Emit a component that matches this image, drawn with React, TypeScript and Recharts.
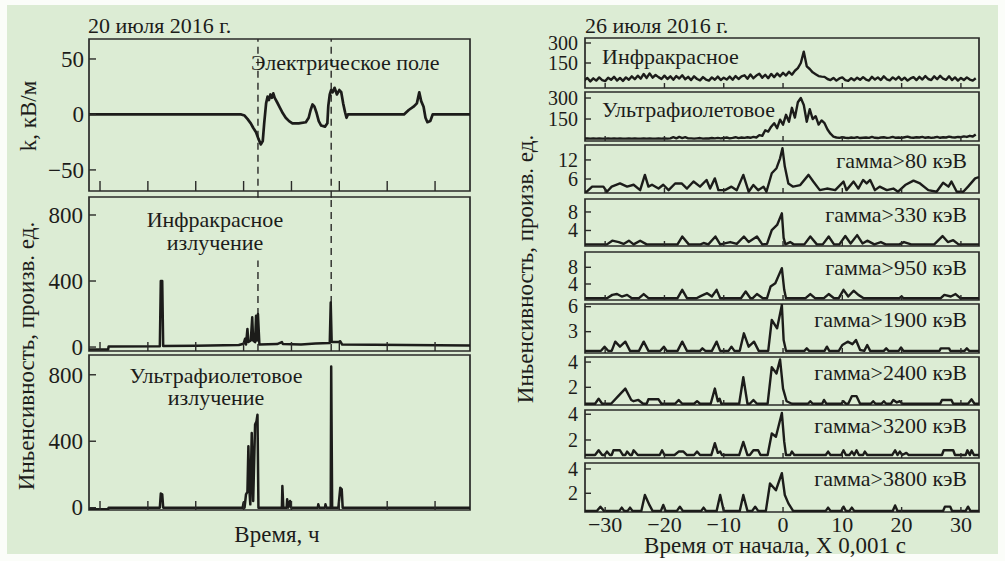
import React from "react";
import { LineChart, Line, XAxis, YAxis, ReferenceArea, ReferenceLine } from "recharts";

type Pt = [number, number];

const INK = "#1c1c1a";
const FRAME = "#2a2a28";
const GREEN = "#dcecd4";
const FONT = "Liberation Serif, DejaVu Serif, serif";

// ---------- 20 July 2016 (left column), time in hours ----------
const hourTicks = [1, 2, 3, 4, 5, 6, 7, 8];
const hourRange: [number, number] = [0.77, 8.73];
const flashHours = [4.3, 5.83];

const fieldTicks = [-50, 0, 50];
const fieldKvM: Pt[] = [
  [0.77, 0], [3.95, 0], [4.02, -1], [4.08, -4], [4.15, -8], [4.2, -12], [4.26, -16],
  [4.31, -22], [4.36, -27], [4.4, -24], [4.43, -8], [4.47, 10], [4.5, 16], [4.53, 13],
  [4.56, 18], [4.59, 15], [4.62, 19], [4.65, 15], [4.7, 11], [4.76, 6], [4.82, 1],
  [4.88, -3], [4.95, -6], [5.02, -8], [5.15, -8], [5.3, -7], [5.36, -3], [5.4, 4],
  [5.44, 9], [5.48, 7], [5.52, 2], [5.57, -6], [5.62, -10], [5.7, -11], [5.75, -8],
  [5.77, 8], [5.8, 18], [5.83, 22], [5.86, 20], [5.9, 24], [5.95, 18], [6.0, 22],
  [6.04, 20], [6.08, 10], [6.12, 2], [6.15, -3], [6.18, 0], [7.35, 0], [7.45, 4],
  [7.55, 7], [7.62, 10], [7.67, 20], [7.71, 12], [7.76, 7], [7.8, -3], [7.84, -7],
  [7.9, -6], [7.95, 0], [8.73, 0],
];

const intensityTicks = [0, 400, 800];
const infraredJul20: Pt[] = [
  [0.77, -15], [1.17, -15], [1.18, 4], [2.25, 5], [2.27, 400], [2.3, 400], [2.32, 6],
  [3.0, 8], [3.9, 12], [4.0, 20], [4.03, 50], [4.05, 15], [4.08, 110], [4.1, 30],
  [4.15, 40], [4.18, 180], [4.2, 40], [4.24, 30], [4.26, 190], [4.28, 40], [4.3, 200],
  [4.33, 15], [4.7, 18], [4.8, 30], [4.82, 18], [5.2, 15], [5.5, 22], [5.8, 25],
  [5.82, 270], [5.84, 30], [5.98, 30], [6.02, 35], [6.06, 15], [8.73, 10],
];
const ultravioletJul20: Pt[] = [
  [0.77, -10], [1.17, -10], [1.18, 0], [2.25, 0], [2.27, 85], [2.3, 80], [2.32, 0],
  [3.98, 0], [4.0, 30], [4.02, 0], [4.05, 80], [4.08, 95], [4.1, 370], [4.12, 110],
  [4.14, 20], [4.17, 450], [4.2, 40], [4.24, 500], [4.27, 520], [4.29, 560], [4.31, 0],
  [4.8, 0], [4.81, 130], [4.83, 0], [4.9, 0], [4.91, 50], [4.93, 0], [4.97, 40],
  [4.99, 0], [5.55, 0], [5.56, 20], [5.58, 0], [5.7, 0], [5.71, 20], [5.73, 0],
  [5.82, 0], [5.83, 850], [5.85, 0], [5.98, 0], [5.99, 30], [6.02, 120], [6.05, 110],
  [6.07, 0], [8.73, 0],
];

// ---------- 26 July 2016 (right column), time in ms ----------
const msTicks = [-30, -20, -10, 0, 10, 20, 30];
const msRange: [number, number] = [-33.4, 33.05];
const sampleStart = -33.5;
const sampleStep = 0.5;

const infraredJul26 = [
  20, 38, 12, 35, 18, 42, 22, 14, 40, 24, 46, 18, 38, 16, 42, 24, 50, 28,
  55, 32, 68, 38, 72, 40, 60, 44, 30, 55,
  30, 50, 24, 52, 34, 58, 28, 46, 22, 50, 30, 20, 44, 26, 18, 42, 24, 48, 22, 40,
  26, 48, 24, 52, 30, 50, 58, 32, 64, 36, 56, 70, 40, 62, 36, 68, 44, 72, 50, 76,
  56, 84, 62, 92, 112, 150,
  235, 125, 105, 80, 66, 52, 48,
  46, 30, 22, 38, 18, 34, 42, 22, 16, 36, 20, 40, 24, 44, 26, 18, 46, 26, 42, 22,
  50, 28, 20, 42, 26, 46, 22, 40, 18, 34, 44, 22, 46, 26, 52, 30, 22, 50, 28, 54,
  32, 24, 50, 22, 42, 18, 38, 22, 42, 26, 18, 36,
];
const ultravioletJul26 = [
  10, 12, 10, 11, 10, 12, 10, 10, 11, 10, 12, 10, 11, 10, 10, 12, 10, 11, 10, 10,
  12, 10, 11, 10, 10, 12, 10, 11, 10, 12,
  20, 12, 22, 14, 20, 12,
  12, 10, 12, 14, 10, 12, 11, 14, 12, 15, 12, 14, 18, 12, 15, 20, 14, 18, 15, 20,
  16, 22, 18,
  35, 30, 70, 60, 95, 120, 85, 145,
  110, 180, 130, 230, 160, 270, 300, 250, 130, 220,
  150, 170, 110, 140, 120, 75, 45, 25,
  18, 15, 20, 16, 14, 18, 15, 20, 14, 16, 18, 15, 22, 16, 14, 18, 20, 15, 17, 22,
  16, 18, 15, 20, 24, 18, 16, 20, 18, 22, 16, 20, 15, 18, 22, 16, 20, 18, 24, 20,
  18, 22, 20, 26, 22, 30, 25, 40,
];

const gamma80: Pt[] = [
  [-33.4, 2.0], [-33.1, 2.0], [-32.2, 3.6], [-30.3, 3.6], [-29.7, 2.0], [-28.9, 3.6],
  [-27.5, 4.6], [-26.3, 3.6], [-25.2, 4.2], [-24.1, 2.5], [-23.3, 7.3], [-22.7, 3.6],
  [-22.1, 4.2], [-21, 3.0], [-20.2, 4.2], [-19.3, 2.5], [-18.2, 4.6], [-17.1, 4.6],
  [-16.2, 3.0], [-15.1, 5.2], [-14, 3.6], [-12.9, 5.7], [-12.3, 3.0], [-11.5, 6.2],
  [-10.9, 2.5], [-9.8, 2.5], [-8.7, 3.6], [-7.8, 2.5], [-6.7, 7.3], [-5.8, 2.0],
  [-5, 4.1], [-4.2, 2.5], [-3.3, 3.6], [-2.8, 2.0], [-1.9, 7.8], [-1.1, 9.4],
  [-0.5, 12.5], [-0.1, 15.7], [0.3, 9.9], [0.9, 4.6], [1.7, 3.6], [2.9, 4.1],
  [4.3, 7.3], [5.1, 5.2], [6.2, 2.5], [7.4, 3.0], [8.8, 2.5], [10.2, 5.2], [10.7, 2.5],
  [11.9, 5.2], [12.7, 3.0], [13.5, 5.7], [14.1, 4.6], [14.7, 5.7], [15.5, 2.5],
  [16.3, 3.6], [17.5, 2.5], [18.6, 3.0], [19.4, 2.0], [20.6, 4.1], [22, 5.5],
  [23.1, 4.6], [24.5, 2.5], [25.9, 2.0], [27, 4.8], [27.9, 3.6], [28.4, 5.2],
  [29.3, 2.0], [30.4, 2.0], [31.2, 3.6], [32.4, 6.2], [33.05, 6.6],
];
const gamma330: Pt[] = [
  [-33.4, 1.0], [-29.7, 1.0], [-28.8, 1.8], [-27.7, 1.5], [-26.9, 1.1], [-26, 1.8],
  [-25.2, 1.0], [-24.1, 1.8], [-23, 1.0], [-17.8, 1.0], [-17, 2.7], [-15.9, 1.0],
  [-13.9, 1.0], [-13.4, 1.3], [-12.6, 1.0], [-11.4, 2.7], [-10.6, 1.0], [-8.9, 1.5],
  [-7.8, 1.1], [-6.6, 2.7], [-5.8, 1.5], [-4.4, 2.7], [-3.5, 1.0], [-2.7, 1.1],
  [-1.9, 4.1], [-1, 5.2], [-0.2, 7.7], [0.1, 2.4], [0.4, 1.0], [1.2, 1.5], [1.8, 1.0],
  [3.6, 1.0], [4.6, 2.7], [5.7, 1.0], [6.7, 1.0], [7.7, 2.7], [8.6, 1.0], [9.5, 1.0],
  [10.5, 2.8], [11.4, 1.2], [12.5, 3.0], [13.4, 1.2], [14.2, 1.8], [15.4, 1.0],
  [16.5, 1.5], [17.3, 1.0], [19.6, 1.0], [20.4, 1.5], [21.6, 1.0], [25.5, 1.0],
  [26.9, 2.8], [27.8, 1.5], [28.7, 1.9], [29.6, 1.0], [33.05, 1.0],
];
const gamma950: Pt[] = [
  [-33.4, 0.6], [-29.7, 0.6], [-28.8, 1.4], [-28, 1.6], [-27.2, 1.0], [-26.3, 1.4],
  [-25.5, 0.6], [-24.3, 0.6], [-23.5, 1.6], [-22.7, 0.6], [-17.8, 0.6], [-17, 2.6],
  [-16.2, 0.6], [-14.6, 0.6], [-13.9, 1.1], [-12.8, 1.8], [-12, 1.0], [-11.2, 2.6],
  [-10.6, 0.6], [-7.1, 0.6], [-6.3, 2.2], [-5.5, 0.6], [-5.1, 0.6], [-4.4, 1.6],
  [-3.4, 0.6], [-2.7, 0.6], [-2.1, 3.4], [-1.3, 4.2], [-0.2, 7.8], [0.2, 2.6],
  [0.5, 0.6], [3.8, 0.6], [4.6, 1.6], [5.4, 0.6], [6.9, 0.6], [7.7, 1.6], [8.6, 0.6],
  [9.4, 0.6], [10.2, 2.6], [11, 1.0], [11.9, 2.4], [12.7, 1.4], [13.6, 0.6],
  [19.6, 0.6], [20, 1.0], [20.3, 0.6], [26.6, 0.6], [27.2, 1.4], [28.3, 1.0],
  [29.1, 1.6], [29.9, 0.6], [33.05, 0.6],
];
const gamma1900: Pt[] = [
  [-33.4, 0.7], [-30.7, 0.7], [-30.1, 1.2], [-29.5, 0.7], [-28.9, 0.7], [-28.3, 1.8],
  [-27.5, 1.2], [-26.6, 1.8], [-25.8, 0.7], [-24.3, 0.7], [-23.5, 1.8], [-22.7, 0.7],
  [-20.7, 0.7], [-20.1, 1.2], [-19.6, 0.7], [-17.8, 0.7], [-17, 1.8], [-16.2, 0.7],
  [-14, 0.7], [-13.6, 1.0], [-13.1, 0.7], [-12, 0.7], [-11.2, 1.8], [-10.6, 0.7],
  [-9.2, 0.7], [-8.7, 1.2], [-8.2, 0.7], [-7.3, 0.7], [-6.6, 2.8], [-5.8, 1.2],
  [-4.9, 1.8], [-4.1, 0.7], [-2.5, 0.7], [-1.9, 4.4], [-1, 3.4], [-0.2, 6.2],
  [0.1, 2.0], [0.5, 0.7], [3.6, 0.7], [4, 1.0], [4.4, 0.7], [7, 0.7], [7.4, 1.2],
  [7.8, 0.7], [9.4, 0.7], [10, 1.4], [10.9, 1.8], [11.7, 1.5], [12.3, 2.0], [13, 0.8],
  [13.7, 0.7], [14.2, 1.4], [14.7, 0.7], [17, 0.7], [17.4, 1.0], [17.8, 0.7],
  [19.5, 0.7], [19.9, 1.1], [20.3, 0.7], [26.4, 0.7], [26.6, 1.0], [28, 1.0],
  [28.2, 0.7], [30.6, 0.7], [31, 1.0], [31.4, 0.7], [33.05, 0.7],
];
const gamma2400: Pt[] = [
  [-33.4, 0.7], [-31.7, 0.7], [-31.1, 1.1], [-30.5, 0.7], [-29, 0.7], [-27.8, 1.3],
  [-26.6, 1.9], [-25.6, 1.0], [-25.2, 0.9], [-24.4, 1.0], [-23.6, 0.7], [-23, 0.7],
  [-22.7, 1.05], [-21, 1.05], [-20.5, 0.7], [-18.2, 0.7], [-17.6, 1.0], [-17, 0.7],
  [-15, 0.7], [-14.5, 0.9], [-14, 0.7], [-12.2, 0.7], [-11.5, 1.9], [-11, 0.9],
  [-10.7, 1.1], [-10.4, 0.7], [-7.4, 0.7], [-6.7, 2.8], [-6, 0.7], [-5.6, 0.7],
  [-5, 1.0], [-4.4, 0.7], [-2.6, 0.7], [-1.9, 3.6], [-1.1, 3.1], [-0.5, 4.2],
  [0, 1.9], [0.6, 0.9], [1.5, 0.7], [4.2, 0.7], [4.6, 0.9], [5, 0.7], [6.6, 0.7],
  [6.9, 1.0], [7.3, 0.7], [9.8, 0.7], [10.2, 0.9], [10.6, 0.7], [11, 0.7], [11.6, 1.3],
  [12.4, 1.3], [13, 0.7], [14.8, 0.7], [15.2, 0.9], [15.6, 0.7], [16.6, 0.7],
  [17, 0.9], [17.4, 0.7], [18.2, 0.7], [18.6, 1.0], [19.2, 0.8], [19.7, 0.9],
  [20.1, 0.7], [26.5, 0.7], [26.8, 1.0], [28.4, 1.0], [28.7, 0.7], [31.2, 0.7],
  [31.8, 1.05], [32.3, 0.7], [33.05, 0.7],
];
const gamma3200: Pt[] = [
  [-33.4, 0.83], [-31.7, 0.83], [-31.1, 1.2], [-30.5, 0.83], [-30.1, 0.83],
  [-29.7, 1.1], [-29.2, 0.83], [-28.9, 0.83], [-28.6, 1.2], [-27.5, 1.2], [-27, 0.83],
  [-26.6, 0.83], [-26.3, 1.1], [-25.8, 0.83], [-25.5, 0.83], [-25.2, 1.2],
  [-24.5, 0.83], [-20.8, 0.83], [-20.4, 1.2], [-20, 0.83], [-18.3, 0.83],
  [-17.6, 1.1], [-16.8, 1.1], [-16.2, 0.83], [-15, 0.83], [-14.5, 1.1], [-14, 0.83],
  [-12.1, 0.83], [-11.5, 1.75], [-11, 1.0], [-10.6, 1.1], [-10.3, 0.83],
  [-7.4, 0.83], [-6.7, 1.85], [-6, 0.83], [-5.6, 0.83], [-5, 1.2], [-4.2, 1.2],
  [-3.8, 0.83], [-2.6, 0.83], [-1.9, 2.5], [-1.2, 2.25], [-0.2, 4.1], [0.2, 1.87],
  [0.5, 0.83], [1.2, 0.83], [1.5, 1.1], [1.9, 0.83], [7.2, 0.83], [7.6, 1.1],
  [8, 0.83], [9.8, 0.83], [10.2, 1.2], [10.6, 0.83], [11.2, 0.83], [11.6, 1.1],
  [12, 0.83], [12.4, 1.2], [12.8, 0.83], [13.5, 0.83], [13.8, 1.1], [14.2, 0.83],
  [18.4, 0.83], [18.9, 1.2], [19.3, 0.83], [19.7, 1.1], [20.1, 0.83], [20.8, 1.0],
  [21.2, 0.83], [26.8, 0.83], [27.1, 1.2], [28.7, 1.2], [29, 0.83], [30.8, 0.83],
  [31.1, 1.2], [31.5, 0.83], [31.8, 1.2], [32.2, 0.83], [33.05, 0.83],
];
const gamma3800: Pt[] = [
  [-33.4, 0.55], [-31.4, 0.55], [-30.8, 0.9], [-30.2, 0.55], [-27.6, 0.55],
  [-27.2, 0.82], [-26.8, 0.55], [-26.2, 0.55], [-25.8, 0.82], [-25.4, 0.55],
  [-23.9, 0.55], [-23.3, 1.86], [-22.5, 1.0], [-22, 0.55], [-20.6, 0.55],
  [-20.2, 1.04], [-19.8, 0.55], [-17.9, 0.55], [-17.4, 0.9], [-16.9, 0.55],
  [-13.8, 0.55], [-13.4, 0.82], [-13, 0.55], [-11.2, 0.55], [-10.6, 1.86], [-10, 0.55],
  [-7.3, 0.55], [-6.7, 1.86], [-6, 0.55], [-5.2, 0.55], [-4.7, 0.9], [-4.2, 0.55],
  [-2.9, 0.55], [-2.2, 2.8], [-1.2, 2.25], [-0.2, 3.65], [0.3, 1.86], [0.9, 1.17],
  [1.7, 0.55], [7.2, 0.55], [7.6, 0.82], [8, 0.55], [9.8, 0.55], [10.2, 0.9],
  [10.6, 0.55], [11.2, 0.55], [11.6, 0.82], [12, 0.55], [18.5, 0.55], [18.9, 1.0],
  [19.3, 0.55], [27, 0.55], [27.3, 0.9], [28.2, 0.9], [28.5, 0.55], [30.8, 0.55],
  [31.2, 0.9], [31.6, 0.55], [33.05, 0.55],
];

type Row = { t: number; v: number };
const fromPairs = (pts: Pt[]): Row[] => pts.map(([t, v]) => ({ t, v }));
const fromSamples = (vals: number[]): Row[] =>
  vals.map((v, i) => ({ t: sampleStart + i * sampleStep, v }));

const fmt = (v: number) => (v < 0 ? `\u2212${-v}` : `${v}`);

interface PanelProps {
  left: number;
  top: number;
  width: number;
  height: number;
  data: Row[];
  xDomain: [number, number];
  xTicks: number[];
  xTickLen: number;
  xLabels?: boolean;
  yDomain: [number, number];
  yTicks: number[];
  yTickLen: number;
  yLabelGap: number;
  fontSize: number;
  lineWidth: number;
  children?: React.ReactNode;
}

const PAD_L = 70;
const PAD_T = 14;
const PAD_R = 6;

function Panel(p: PanelProps) {
  const padB = p.xLabels ? 34 : 14;
  const label = { fontFamily: FONT, fontSize: p.fontSize, fill: INK };
  const yTick = (props: any) => (
    <g>
      <line x1={props.x} x2={props.x + p.yTickLen} y1={props.y} y2={props.y} stroke={FRAME} strokeWidth={1.4} />
      <text x={props.x - p.yLabelGap} y={props.y} dy="0.34em" textAnchor="end" style={label}>
        {fmt(props.payload.value)}
      </text>
    </g>
  );
  const xTick = (props: any) => (
    <g>
      <line x1={props.x} x2={props.x} y1={props.y} y2={props.y - p.xTickLen} stroke={FRAME} strokeWidth={1.4} />
      {p.xLabels && (
        <text x={props.x} y={props.y + 20} textAnchor="middle" style={{ ...label, fontSize: 22 }}>
          {fmt(props.payload.value)}
        </text>
      )}
    </g>
  );
  return (
    <div style={{ position: "absolute", left: p.left - PAD_L, top: p.top - PAD_T }}>
      <LineChart
        width={PAD_L + p.width + PAD_R}
        height={PAD_T + p.height + padB}
        data={p.data}
        margin={{ top: PAD_T, right: PAD_R, bottom: 0, left: 0 }}
      >
        <XAxis
          dataKey="t"
          type="number"
          domain={p.xDomain}
          allowDataOverflow
          ticks={p.xTicks}
          interval={0}
          height={padB}
          tickSize={0}
          tickMargin={0}
          tickLine={false}
          axisLine={false}
          tick={xTick}
        />
        <YAxis
          type="number"
          domain={p.yDomain}
          allowDataOverflow
          ticks={p.yTicks}
          interval={0}
          width={PAD_L}
          tickSize={0}
          tickMargin={0}
          tickLine={false}
          axisLine={false}
          tick={yTick}
        />
        {p.children}
        <Line
          type="linear"
          dataKey="v"
          stroke={INK}
          strokeWidth={p.lineWidth}
          strokeLinejoin="round"
          dot={false}
          isAnimationActive={false}
        />
        <ReferenceArea
          x1={p.xDomain[0]}
          x2={p.xDomain[1]}
          y1={p.yDomain[0]}
          y2={p.yDomain[1]}
          fill="none"
          stroke={FRAME}
          strokeWidth={1.7}
          fillOpacity={0}
          ifOverflow="visible"
        />
      </LineChart>
    </div>
  );
}

const LEFT_X = 89;
const LEFT_W = 381;
const RIGHT_X = 585;
const RIGHT_W = 394;

const rightPanels = [
  { top: 38, bottom: 88, domain: [-37.5, 337.5], ticks: [150, 300], rows: fromSamples(infraredJul26), name: "" },
  { top: 92, bottom: 141, domain: [-7, 343], ticks: [150, 300], rows: fromSamples(ultravioletJul26), name: "" },
  { top: 145, bottom: 193, domain: [1.6, 16.7], ticks: [6, 12], rows: fromPairs(gamma80), name: "гамма>80 кэВ" },
  { top: 199, bottom: 246, domain: [0.65, 10.8], ticks: [4, 8], rows: fromPairs(gamma330), name: "гамма>330 кэВ" },
  { top: 252, bottom: 300, domain: [0.17, 11.66], ticks: [4, 8], rows: fromPairs(gamma950), name: "гамма>950 кэВ" },
  { top: 304, bottom: 353, domain: [0.44, 6.32], ticks: [3, 6], rows: fromPairs(gamma1900), name: "гамма>1900 кэВ" },
  { top: 357, bottom: 405, domain: [0.6, 4.4], ticks: [2, 4], rows: fromPairs(gamma2400), name: "гамма>2400 кэВ" },
  { top: 410, bottom: 458, domain: [0.6, 4.33], ticks: [2, 4], rows: fromPairs(gamma3200), name: "гамма>3200 кэВ" },
  { top: 463, bottom: 512, domain: [0.46, 4.49], ticks: [2, 4], rows: fromPairs(gamma3800), name: "гамма>3800 кэВ" },
];

const dash = { stroke: FRAME, strokeWidth: 1.4, strokeDasharray: "7 5" };

export default function App() {
  const txt = (size: number): React.CSSProperties => ({ fontFamily: FONT, fontSize: size, fill: INK });
  return (
    <div style={{ position: "absolute", left: 0, top: 0, width: 1005, height: 561, background: "#fbfdf9", overflow: "hidden" }}>
      <div style={{ position: "absolute", left: 7, top: 5, width: 991, height: 549, background: GREEN }} />

      <Panel
        left={LEFT_X} top={39} width={LEFT_W} height={152}
        data={fromPairs(fieldKvM)}
        xDomain={hourRange} xTicks={hourTicks} xTickLen={10}
        yDomain={[-69, 68]} yTicks={fieldTicks} yTickLen={7} yLabelGap={5}
        fontSize={23} lineWidth={2.7}
      >
        {flashHours.map((h) => (
          <ReferenceLine key={h} segment={[{ x: h, y: -75 }, { x: h, y: 68 }]} ifOverflow="visible" {...dash} />
        ))}
      </Panel>
      <Panel
        left={LEFT_X} top={197} width={LEFT_W} height={154}
        data={fromPairs(infraredJul20)}
        xDomain={hourRange} xTicks={hourTicks} xTickLen={9}
        yDomain={[-24, 909]} yTicks={intensityTicks} yTickLen={7} yLabelGap={6}
        fontSize={23} lineWidth={2.5}
      >
        <ReferenceLine segment={[{ x: flashHours[0], y: -24 }, { x: flashHours[0], y: 524 }]} {...dash} />
        <ReferenceLine x={flashHours[1]} {...dash} />
      </Panel>
      <Panel
        left={LEFT_X} top={355} width={LEFT_W} height={155}
        data={fromPairs(ultravioletJul20)}
        xDomain={hourRange} xTicks={hourTicks} xTickLen={9}
        yDomain={[-14, 919]} yTicks={intensityTicks} yTickLen={7} yLabelGap={6}
        fontSize={23} lineWidth={2.5}
      />

      {rightPanels.map((rp, i) => (
        <Panel
          key={i}
          left={RIGHT_X} top={rp.top} width={RIGHT_W} height={rp.bottom - rp.top}
          data={rp.rows}
          xDomain={msRange} xTicks={msTicks} xTickLen={5}
          xLabels={i === rightPanels.length - 1}
          yDomain={rp.domain as [number, number]} yTicks={rp.ticks} yTickLen={6} yLabelGap={7}
          fontSize={20} lineWidth={2.4}
        />
      ))}

      <svg width={1005} height={561} style={{ position: "absolute", left: 0, top: 0, pointerEvents: "none" }}>
        <text x={88} y={33} style={txt(22)}>20 июля 2016 г.</text>
        <text x={585} y={33} style={txt(22)}>26 июля 2016 г.</text>

        <text x={251} y={70} style={txt(22)}>Электрическое поле</text>
        <text x={215} y={227} textAnchor="middle" style={txt(22)}>Инфракрасное</text>
        <text x={215} y={250} textAnchor="middle" style={txt(22)}>излучение</text>
        <text x={216} y={383} textAnchor="middle" style={txt(22)}>Ультрафиолетовое</text>
        <text x={216} y={405} textAnchor="middle" style={txt(22)}>излучение</text>
        <text x={277} y={542} textAnchor="middle" style={txt(23)}>Время, ч</text>

        <text transform="translate(36,116) rotate(-90)" textAnchor="middle" style={txt(23)}>k, кВ/м</text>
        <text transform="translate(34,356) rotate(-90)" textAnchor="middle" style={txt(23)}>
          Иньенсивность, произв. ед.
        </text>

        <text x={602} y={64} style={txt(22)}>Инфракрасное</text>
        <text x={602} y={117} style={txt(22)}>Ультрафиолетовое</text>
        {rightPanels
          .filter((rp) => rp.name)
          .map((rp) => (
            <text key={rp.name} x={967} y={rp.top + 23} textAnchor="end" style={txt(22)}>
              {rp.name}
            </text>
          ))}
        <text transform="translate(533,269) rotate(-90)" textAnchor="middle" style={txt(23)}>
          Иньенсивность, произв. ед.
        </text>
        <text x={775} y={553} textAnchor="middle" style={txt(23)}>Время от начала, X 0,001 с</text>
      </svg>
    </div>
  );
}
